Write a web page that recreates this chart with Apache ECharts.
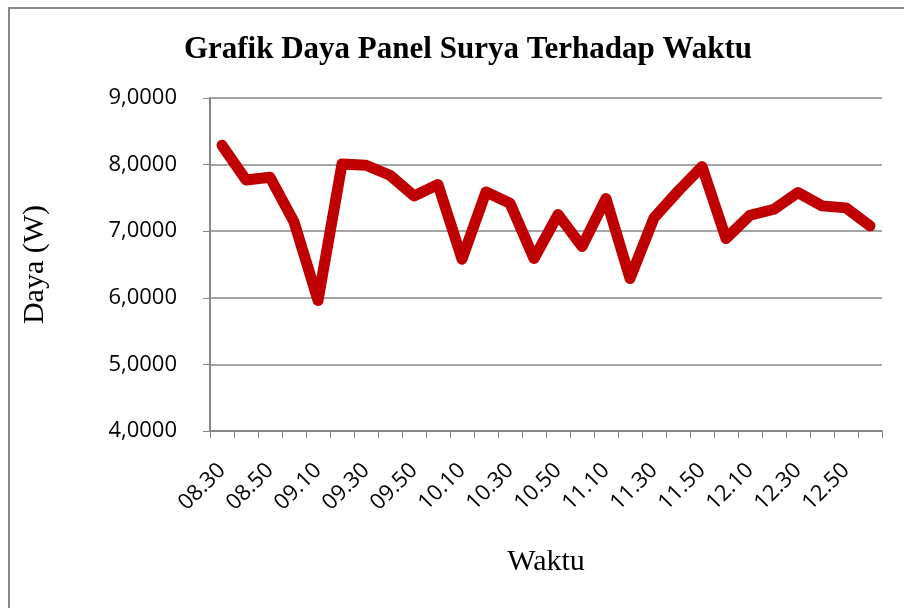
<!DOCTYPE html>
<html>
<head>
<meta charset="utf-8">
<script src="https://cdn.jsdelivr.net/npm/echarts@6/dist/echarts.min.js"></script>
<style>
  html, body { margin: 0; padding: 0; background: #fff; }
  #chart { width: 904px; height: 608px; }
</style>
</head>
<body>
<div id="chart"></div>
<script>
const waktu = [
  '08.30', '08.40', '08.50', '09.00', '09.10', '09.20', '09.30', '09.40',
  '09.50', '10.00', '10.10', '10.20', '10.30', '10.40', '10.50', '11.00',
  '11.10', '11.20', '11.30', '11.40', '11.50', '12.00', '12.10', '12.20',
  '12.30', '12.40', '12.50', '13.00'
]
const daya = [
  8.29, 7.77, 7.81, 7.14, 5.96, 8.01, 7.99, 7.84,
  7.53, 7.70, 6.58, 7.59, 7.42, 6.59, 7.25, 6.77,
  7.49, 6.29, 7.20, 7.60, 7.97, 6.89, 7.24, 7.33,
  7.58, 7.38, 7.35, 7.08
]
const yMin = 4
const yMax = 9

const gray = '#868686'
const chart = echarts.init(document.getElementById('chart'))

const option = {
  animation: false,
  backgroundColor: '#fff',
  title: {
    text: 'Grafik Daya Panel Surya Terhadap Waktu',
    left: 463,
    textAlign: 'center',
    top: 29,
    textStyle: {
      fontFamily: 'Liberation Serif',
      fontWeight: 'bold',
      fontSize: 31,
      color: '#000',
    },
  },
  graphic: [
    {
      type: 'rect',
      shape: { x: 9, y: 8, width: 1000, height: 1000 },
      style: { fill: 'none', stroke: gray, lineWidth: 2 },
      silent: true,
    },
  ],
  grid: { left: 210, right: 22, top: 98, bottom: 177, containLabel: false },
  xAxis: {
    type: 'category',
    data: waktu,
    boundaryGap: true,
    name: 'Waktu',
    nameLocation: 'middle',
    nameGap: 116,
    nameTextStyle: { fontFamily: 'Liberation Serif', fontSize: 30, color: '#000' },
    axisLine: { lineStyle: { color: gray, width: 2 } },
    axisTick: { show: true, interval: 0, length: 7, lineStyle: { color: gray } },
    axisLabel: {
      interval: 1,
      rotate: 45,
      margin: 36,
      fontFamily: 'Open Sans',
      fontSize: 22,
      color: '#000',
    },
    splitLine: { show: false },
  },
  yAxis: {
    type: 'value',
    min: yMin,
    max: yMax,
    interval: 1,
    name: 'Daya (W)',
    nameLocation: 'middle',
    nameGap: 160,
    nameRotate: 90,
    nameTextStyle: { fontFamily: 'Liberation Serif', fontSize: 30, color: '#000' },
    axisLine: { show: true, lineStyle: { color: gray, width: 2 } },
    axisTick: { show: true, length: 7, lineStyle: { color: gray } },
    axisLabel: {
      margin: 33,
      fontFamily: 'Open Sans',
      fontSize: 22,
      color: '#000',
      formatter: (v) => v.toFixed(4).replace('.', ','),
    },
    splitLine: { show: true, lineStyle: { color: gray, width: 1.5 } },
  },
  series: [
    {
      type: 'line',
      data: daya,
      showSymbol: false,
      symbol: 'none',
      lineStyle: { color: '#c00000', width: 11, cap: 'round', join: 'round' },
    },
  ],
}

option && chart.setOption(option)
</script>
</body>
</html>
